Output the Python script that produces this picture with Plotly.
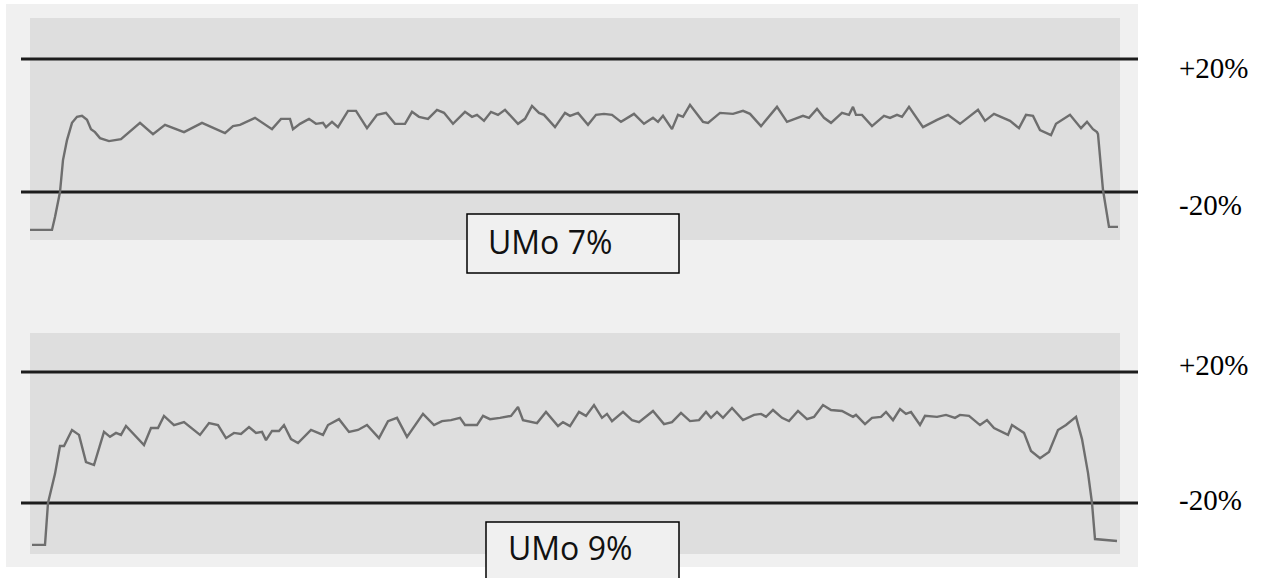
import plotly.graph_objects as go

# Thickness deviation profiles (position along plate, deviation in %)
pos_7 = [0, 22, 25, 30, 33, 37, 42, 47, 52, 57, 61, 65, 70, 77, 79, 91, 102, 110, 123, 135,
         154, 172, 195, 203, 210, 225, 242, 251, 260, 263, 270, 279, 286, 293, 296, 302, 308,
         318, 326, 337, 347, 356, 365, 375, 382, 389, 398, 407, 414, 423, 435, 442, 447, 454,
         461, 468, 475, 488, 495, 502, 509, 514, 525, 535, 540, 548, 558, 566, 574, 582, 591,
         604, 614, 623, 628, 633, 642, 648, 653, 660, 673, 678, 690, 703, 713, 720, 731, 747,
         757, 773, 779, 787, 794, 801, 812, 819, 823, 826, 832, 842, 854, 860, 867, 872, 879,
         893, 907, 918, 930, 948, 955, 964, 980, 989, 996, 1003, 1010, 1021, 1026, 1040, 1051,
         1057, 1063, 1067, 1068, 1073, 1079, 1088]
dev_7 = [-31.4, -31.4, -27.5, -20.0, -10.4, -4.4, 0.8, 2.6, 2.9, 1.7, -1.1, -2.0, -3.8, -4.4,
         -4.7, -4.1, -1.1, 0.8, -2.6, 0.2, -2.0, 0.8, -2.3, -0.2, 0.2, 2.3, -1.1, 2.0, 2.0, -1.1,
         0.5, 2.0, 0.5, 0.8, -0.5, 1.1, -0.5, 4.4, 4.4, -0.8, 3.2, 3.8, 0.5, 0.5, 4.1, 2.6, 2.0,
         4.7, 3.8, 0.5, 4.1, 2.6, 3.2, 1.4, 4.1, 3.2, 4.7, 0.5, 2.0, 5.9, 3.8, 3.2, -0.5, 3.8,
         2.9, 3.8, 0.2, 3.2, 3.5, 3.2, 1.1, 3.5, 0.5, 2.3, 1.1, 2.9, -1.1, 3.2, 2.6, 6.2, 1.1,
         0.8, 3.8, 3.5, 4.4, 3.5, -0.2, 5.6, 1.1, 2.9, 2.3, 5.0, 2.3, 0.8, 3.8, 3.2, 5.6, 3.2,
         3.2, -0.2, 2.9, 2.3, 3.2, 2.6, 5.6, -0.5, 1.7, 3.2, 0.5, 4.7, 1.4, 3.5, 1.4, -0.8, 3.2,
         2.9, -1.4, -2.9, 0.5, 3.2, -0.8, 1.1, -1.1, -2.0, -2.6, -19.4, -30.5, -30.5]

pos_9 = [2, 15, 18, 25, 30, 34, 42, 49, 56, 64, 74, 80, 86, 91, 96, 104, 114, 121, 128, 134,
         144, 154, 161, 170, 179, 188, 196, 204, 211, 219, 226, 232, 236, 242, 249, 254, 261,
         268, 281, 293, 298, 309, 319, 328, 337, 349, 358, 367, 377, 393, 404, 412, 421, 430,
         435, 447, 453, 460, 470, 481, 488, 493, 507, 516, 528, 533, 540, 549, 556, 564, 572,
         577, 582, 593, 602, 609, 623, 634, 642, 651, 660, 669, 676, 681, 687, 693, 702, 713,
         724, 731, 736, 743, 752, 759, 768, 777, 784, 793, 801, 812, 823, 826, 835, 842, 851,
         856, 863, 870, 876, 881, 890, 895, 907, 916, 925, 930, 939, 950, 957, 964, 978, 982,
         994, 1001, 1010, 1019, 1028, 1036, 1046, 1052, 1058, 1062, 1065, 1087]
dev_9 = [-32.8, -32.8, -20.0, -11.1, -2.6, -2.6, 2.3, 0.8, -7.5, -8.4, 1.7, 0.2, 1.4, 0.8, 3.5,
         0.8, -2.3, 2.9, 2.9, 6.6, 3.8, 4.7, 2.9, 0.8, 4.4, 3.8, -0.2, 1.4, 1.1, 3.2, 1.4, 1.7,
         -0.8, 2.0, 2.0, 3.8, -0.5, -1.7, 2.3, 0.8, 3.8, 5.6, 1.7, 2.3, 3.8, -0.2, 5.0, 6.0, 0.2,
         7.2, 3.8, 5.0, 5.3, 6.0, 3.8, 3.8, 6.6, 5.6, 6.0, 6.6, 9.3, 5.3, 4.4, 7.8, 3.5, 4.7,
         3.5, 7.8, 6.6, 9.9, 6.0, 7.2, 5.0, 7.8, 5.3, 4.7, 8.1, 4.1, 4.7, 7.5, 5.0, 5.3, 7.8,
         6.0, 7.8, 6.0, 9.0, 5.3, 6.9, 7.2, 6.3, 8.4, 6.0, 5.0, 8.1, 5.6, 6.3, 9.9, 8.4, 8.1,
         6.3, 6.9, 4.1, 6.0, 6.3, 7.8, 5.3, 8.7, 7.2, 7.8, 3.8, 6.6, 6.3, 6.9, 6.0, 6.9, 6.6,
         3.8, 5.3, 2.9, 0.8, 3.8, 1.4, -4.1, -6.3, -4.4, 2.3, 3.8, 6.3, -0.5, -10.8, -20.0,
         -31.0, -31.6]

# Tolerance band limits and their labels
limits = [20, -20]
limit_labels = ["+20%", "-20%"]
limit_span = [-9, 1108]
panel_titles = ["UMo 7%", "UMo 9%"]

W, H = 1266, 578


def px(x):
    return x / W


def py(y):
    return 1 - y / H


fig = go.Figure()

PROFILE = dict(color="#6e6e6e", width=2.4)
LIMIT = dict(color="#1c1c1c", width=3)

for yax, pos, dev in (("y", pos_7, dev_7), ("y2", pos_9, dev_9)):
    xax = "x" if yax == "y" else "x2"
    for lim in limits:
        fig.add_trace(go.Scatter(x=limit_span, y=[lim, lim], mode="lines", line=LIMIT,
                                 xaxis=xax, yaxis=yax, hoverinfo="skip", showlegend=False))
    fig.add_trace(go.Scatter(x=pos, y=dev, mode="lines", line=PROFILE,
                             xaxis=xax, yaxis=yax, showlegend=False))

hidden = dict(visible=False, showgrid=False, zeroline=False, fixedrange=True)
fig.update_layout(
    width=W, height=H, autosize=False,
    margin=dict(l=0, r=0, t=0, b=0),
    paper_bgcolor="white", plot_bgcolor="white",
    xaxis=dict(range=[-30, 1236], domain=[0, 1], anchor="y", **hidden),
    xaxis2=dict(range=[-30, 1236], domain=[0, 1], anchor="y2", matches="x", **hidden),
    yaxis=dict(range=[-49.17, 37.74], domain=[0.5, 1], anchor="x", **hidden),
    yaxis2=dict(range=[-42.90, 45.34], domain=[0, 0.5], anchor="x2", **hidden),
)

shapes = [
    # outer light frame
    dict(type="rect", xref="paper", yref="paper", x0=px(6), x1=px(1138), y0=py(567), y1=py(4),
         fillcolor="#f0f0f0", line=dict(width=0), layer="below"),
    # panel backgrounds
    dict(type="rect", xref="paper", yref="paper", x0=px(30), x1=px(1120), y0=py(240), y1=py(18),
         fillcolor="#dedede", line=dict(width=0), layer="below"),
    dict(type="rect", xref="paper", yref="paper", x0=px(30), x1=px(1120), y0=py(554), y1=py(333),
         fillcolor="#dedede", line=dict(width=0), layer="below"),
    # title boxes
    dict(type="rect", xref="paper", yref="paper", x0=px(467), x1=px(679), y0=py(273), y1=py(214),
         fillcolor="#f0f0f0", line=dict(color="black", width=1.5), layer="above"),
    dict(type="rect", xref="paper", yref="paper", x0=px(486), x1=px(679), y0=py(600), y1=py(522),
         fillcolor="#f0f0f0", line=dict(color="black", width=1.5), layer="above"),
]
fig.update_layout(shapes=shapes)

SERIF = dict(family="Liberation Serif", size=29, color="black")
SANS = dict(family="Open Sans", size=32, color="#111111")

annotations = []
for text, ypix in zip(limit_labels * 2, [68, 205, 365, 500]):
    annotations.append(dict(text=text, xref="paper", yref="paper", x=px(1177), y=py(ypix),
                            xanchor="left", yanchor="middle", showarrow=False, font=SERIF))
for text, xpix, ypix in zip(panel_titles, [486, 506], [241, 547]):
    annotations.append(dict(text=text, xref="paper", yref="paper", x=px(xpix), y=py(ypix),
                            xanchor="left", yanchor="middle", showarrow=False, font=SANS))
fig.update_layout(annotations=annotations)

fig.write_html("out.html")
